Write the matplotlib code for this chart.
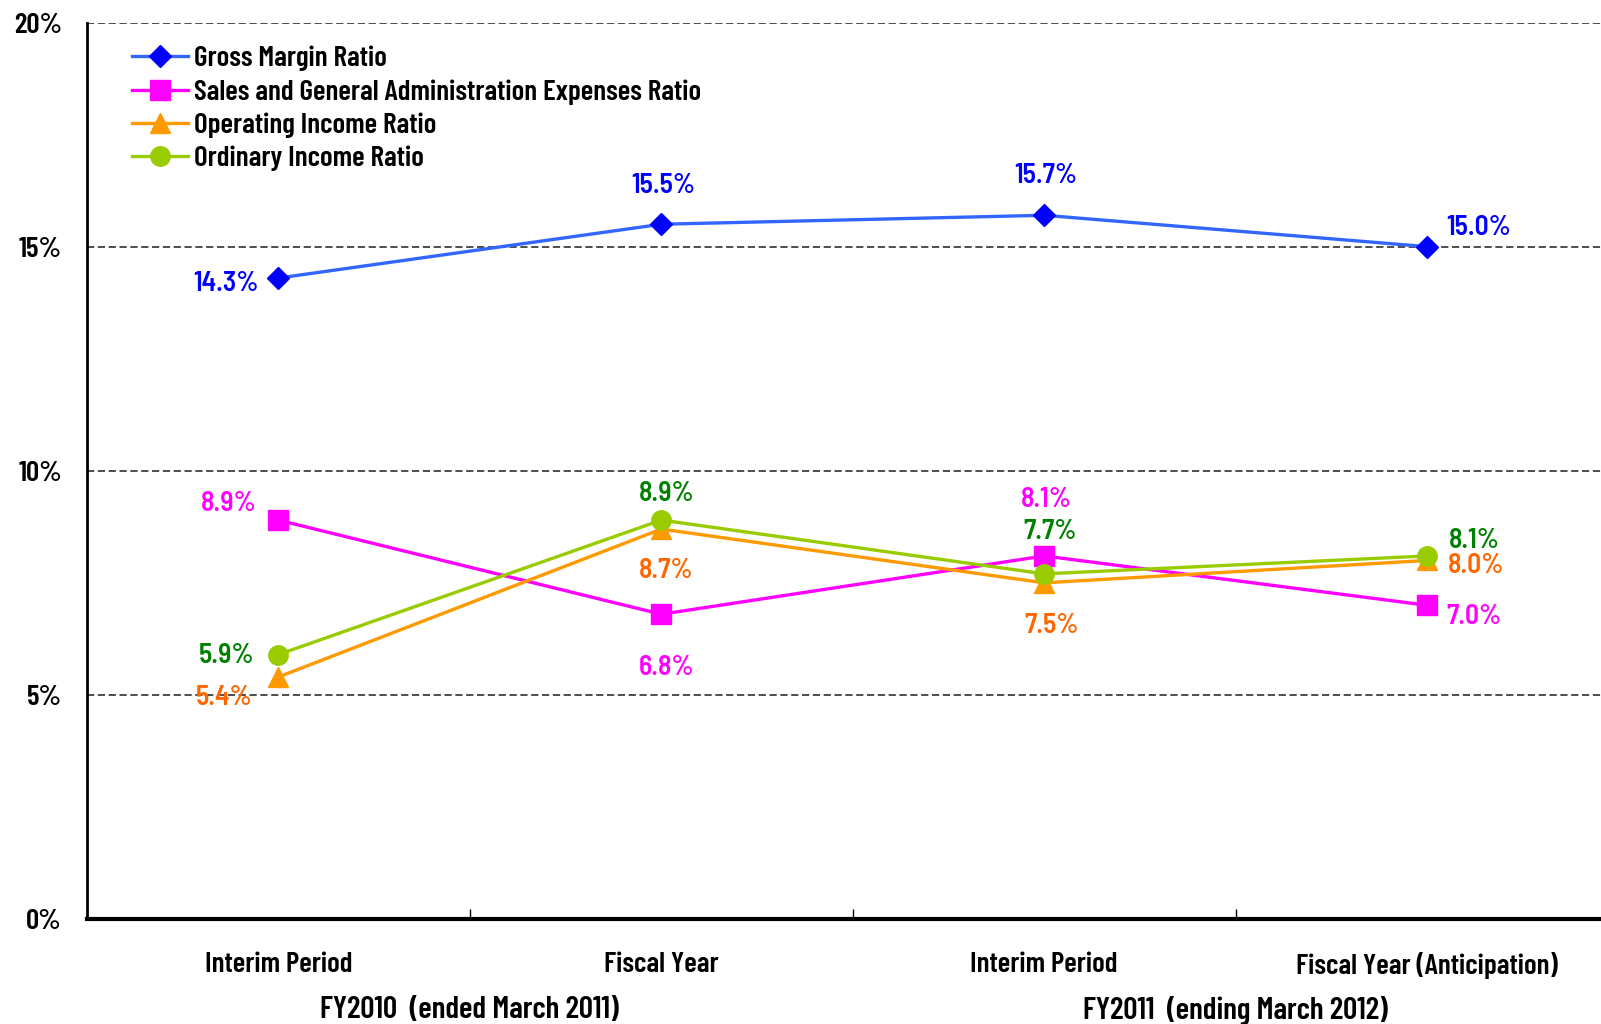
import matplotlib.pyplot as plt
import matplotlib.transforms as mtransforms

categories = ['Interim Period', 'Fiscal Year', 'Interim Period', 'Fiscal Year (Anticipation)']
groups = ['FY2010  (ended March 2011)', 'FY2011  (ending March 2012)']

gross_margin = [14.3, 15.5, 15.7, 15.0]
sga_ratio = [8.9, 6.8, 8.1, 7.0]
operating_income = [5.4, 8.7, 7.5, 8.0]
ordinary_income = [5.9, 8.9, 7.7, 8.1]

names = ['Gross Margin Ratio', 'Sales and General Administration Expenses Ratio',
         'Operating Income Ratio', 'Ordinary Income Ratio']

AXFONT = ['Barlow Condensed', 'DejaVu Sans']
LBLFONT = ['Barlow Semi Condensed', 'DejaVu Sans']
plt.rcParams['font.family'] = AXFONT

fig = plt.figure(figsize=(16.01, 10.24), dpi=100)
ax = fig.add_axes([0.0543, 0.1025, 0.9567, 0.8755])

x = list(range(len(categories)))

series = [
    (gross_margin, '#3366FF', '#0000FF', '#0000FF', 'D', 11),
    (sga_ratio, '#FF00FF', '#FF00FF', '#FF00FF', 's', 15),
    (operating_income, '#FF9900', '#FF9900', '#FF6600', '^', 15),
    (ordinary_income, '#99CC00', '#99CC00', '#008000', 'o', 14),
]

# label offsets in pixels (dx, dy) per point
offsets = [
    [(-52, -5), (2, 39), (2, 40), (52, 19)],
    [(-50, 17), (5, -53), (2, 56), (47, -11)],
    [(-54, -21), (5, -41), (7, -43), (49, -5)],
    [(-52, -1), (5, 27), (6, 42), (47, 15)],
]

for (vals, lc, mc, tc, mk, ms), name, offs in zip(series, names, offsets):
    ax.plot(x, vals, color=lc, lw=2.4, marker=mk, ms=ms, mfc=mc, mec=mc,
            label=name, zorder=3)
    for xi, v, (dx, dy) in zip(x, vals, offs):
        ax.annotate(f'{v:.1f}%', (xi, v), xytext=(dx, dy), textcoords='offset pixels',
                    ha='center', va='center', color=tc, fontsize=20,
                    fontweight='semibold', family=LBLFONT, zorder=4)

ax.set_xlim(-0.5, 3.5)
ax.set_ylim(0, 20)
ax.set_yticks([0, 5, 10, 15, 20])
ax.set_yticklabels([f'{t}%' for t in [0, 5, 10, 15, 20]], fontsize=21, fontweight='semibold')
ax.tick_params(axis='y', length=0, pad=18)

ax.set_xticks(x)
ax.set_xticklabels(categories, fontsize=21, fontweight='semibold')
ax.tick_params(axis='x', which='major', length=0, pad=24)
ax.set_xticks([0.5, 1.5, 2.5], minor=True)
ax.tick_params(axis='x', which='minor', direction='in', length=7, width=1)

for yv in [5, 10, 15, 20]:
    ax.axhline(yv, color='#404040', lw=1.3, ls=(0, (4, 2)), zorder=1)

for s in ['top', 'right']:
    ax.spines[s].set_visible(False)
ax.spines['left'].set_linewidth(2)
ax.spines['bottom'].set_linewidth(3)

trans = mtransforms.blended_transform_factory(ax.transData, ax.transAxes)
for gx, g in zip([0.5, 2.5], groups):
    ax.text(gx, -0.102, g, transform=trans, ha='center', va='center',
            fontsize=22.5, fontweight='semibold')

leg = ax.legend(loc='upper left', bbox_to_anchor=(0.022, 0.987), frameon=False,
                fontsize=21, handlelength=1.9, handletextpad=0.2, labelspacing=0.27,
                borderaxespad=0)
for t in leg.get_texts():
    t.set_fontweight('semibold')

fig.savefig('out.png', dpi=100)
